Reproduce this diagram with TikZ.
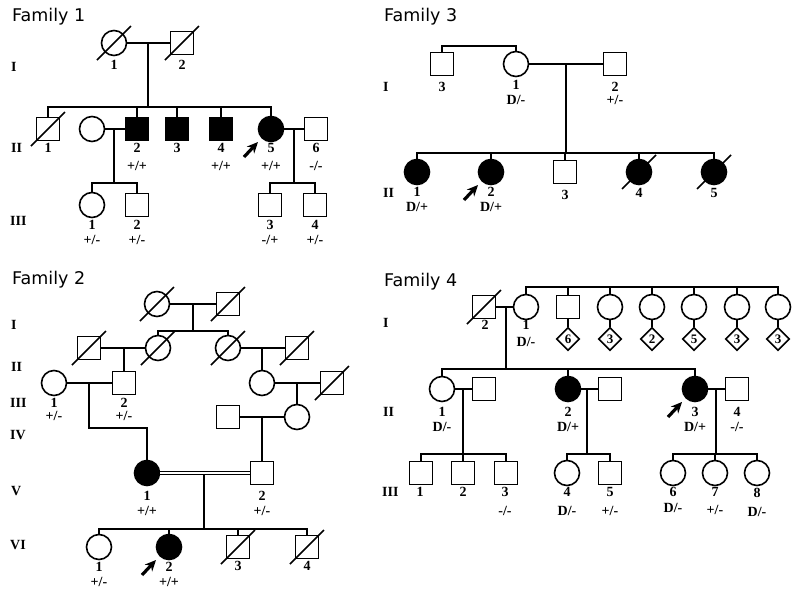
\documentclass[tikz,border=0pt]{standalone}
\usepackage{fontspec}
\setmainfont{Liberation Serif}
\newfontfamily\titlefont{DejaVu Sans}
\usetikzlibrary{calc,arrows.meta,shapes.geometric}
\tikzset{
 base/.style={draw, line width=1.6pt, inner sep=0pt},
 sq/.style={base, rectangle, minimum size=23pt},
 ci/.style={base, circle, minimum size=25pt},
 aff/.style={fill=black},
 dm/.style={base, diamond, minimum size=23pt, font=\bfseries\fontsize{13}{13}\selectfont},
 lab/.style={font=\bfseries\fontsize{14}{14}\selectfont, inner sep=0pt},
 gen/.style={font=\bfseries\fontsize{14}{14}\selectfont, anchor=west, inner sep=0pt},
 ttl/.style={font=\titlefont\fontsize{17.5}{17.5}\selectfont, anchor=west, inner sep=0pt},
 ln/.style={line width=1.6pt},
 dl/.style={line width=1.6pt},
 prob/.style={line width=3.2pt, -{Stealth[length=11pt,width=10pt]}},
 cons/.style={double, double distance=2pt, line width=1.4pt}
}
\newcommand\deadmark[1]{\draw[dl] ($(#1)+(-17,17)$) -- ($(#1)+(17,-17)$);}
\newcommand\probarrow[1]{\draw[prob] ($(#1)+(-27,28)$) -- ($(#1)+(-13,13)$);}
\begin{document}
\begin{tikzpicture}[x=1pt,y=-1pt]
\useasboundingbox[fill=white] (0,0) rectangle (798,595);

% ================= Family 1 =================
\node[ttl] (t1) at (12,17) {Family 1};
\node[gen] (g1a) at (11,67) {I};
\node[gen] (g1b) at (11,148) {II};
\node[gen] (g1c) at (10,221) {III};

\node[ci] (a11) at (114,43) {};
\node[sq] (a12) at (182,43) {};
\deadmark{a11}\deadmark{a12}
\node[lab] (a11n) at (114,65) {1};
\node[lab] (a12n) at (182,65) {2};
\draw[ln] (a11) -- (a12);
\coordinate (a1m) at (148,43);
\coordinate (a1s) at (148,107);
\draw[ln] (a1m) -- (a1s);

\node[sq] (a21) at (48,129) {};
\deadmark{a21}
\node[ci] (a2s) at (92,129) {};
\node[sq,aff] (a22) at (137,129) {};
\node[sq,aff] (a23) at (177,129) {};
\node[sq,aff] (a24) at (221,129) {};
\node[ci,aff] (a25) at (271,129) {};
\node[sq] (a26) at (316,129) {};
\draw[ln] (a21.north) |- (a1s) -| (a25.north);
\foreach \n in {a22,a23,a24} \draw[ln] (\n.north) -- (\n.north |- a1s);
\draw[ln] (a2s) -- (a22);
\draw[ln] (a25) -- (a26);
\coordinate (a2m) at (114,129);
\coordinate (a2c) at (114,183);
\coordinate (a5m) at (294,129);
\coordinate (a5c) at (294,183);
\draw[ln] (a2m) -- (a2c);
\draw[ln] (a5m) -- (a5c);
\probarrow{a25}

\node[lab] (a21n) at (48,148) {1};
\node[lab] (a22n) at (137,148) {2};
\node[lab] (a23n) at (177,148) {3};
\node[lab] (a24n) at (221,148) {4};
\node[lab] (a25n) at (271,148) {5};
\node[lab] (a26n) at (316,148) {6};
\node[lab] (a22g) at (137,166) {+/+};
\node[lab] (a24g) at (221,166) {+/+};
\node[lab] (a25g) at (271,166) {+/+};
\node[lab] (a26g) at (316,166) {-/-};

\node[ci] (a31) at (92,205) {};
\node[sq] (a32) at (137,205) {};
\node[sq] (a33) at (270,205) {};
\node[sq] (a34) at (315,205) {};
\draw[ln] (a31.north) |- (a2c) -| (a32.north);
\draw[ln] (a33.north) |- (a5c) -| (a34.north);
\node[lab] (a31n) at (92,225) {1};
\node[lab] (a32n) at (137,225) {2};
\node[lab] (a33n) at (270,225) {3};
\node[lab] (a34n) at (315,225) {4};
\node[lab] (a31g) at (92,240) {+/-};
\node[lab] (a32g) at (137,240) {+/-};
\node[lab] (a33g) at (270,240) {-/+};
\node[lab] (a34g) at (315,240) {+/-};

% ================= Family 3 =================
\node[ttl] (t3) at (384,17) {Family 3};
\node[gen] (g3a) at (383,87) {I};
\node[gen] (g3b) at (383,193) {II};

\node[sq] (b13) at (442,64) {};
\node[ci] (b11) at (516,64) {};
\node[sq] (b12) at (615,64) {};
\coordinate (b1t) at (442,46);
\draw[ln] (b13.north) -- (b1t) -| (b11.north);
\draw[ln] (b11) -- (b12);
\coordinate (b1m) at (566,64);
\coordinate (b1s) at (566,153);
\draw[ln] (b1m) -- (b1s);
\node[lab] (b13n) at (442,87) {3};
\node[lab] (b11n) at (516,85) {1};
\node[lab] (b11g) at (516,100) {D/-};
\node[lab] (b12n) at (615,87) {2};
\node[lab] (b12g) at (615,100) {+/-};

\node[ci,aff] (b21) at (417,172) {};
\node[ci,aff] (b22) at (491,172) {};
\node[sq] (b23) at (565,172) {};
\node[ci,aff] (b24) at (639,172) {};
\node[ci,aff] (b25) at (714,172) {};
\deadmark{b24}\deadmark{b25}
\draw[ln] (b21.north) |- (b1s) -| (b25.north);
\foreach \n in {b22,b23,b24} \draw[ln] (\n.north) -- (\n.north |- b1s);
\probarrow{b22}
\node[lab] (b21n) at (417,192) {1};
\node[lab] (b21g) at (417,207) {D/+};
\node[lab] (b22n) at (491,192) {2};
\node[lab] (b22g) at (491,207) {D/+};
\node[lab] (b23n) at (565,195) {3};
\node[lab] (b24n) at (639,193) {4};
\node[lab] (b25n) at (714,193) {5};

% ================= Family 2 =================
\node[ttl] (t2) at (12,280) {Family 2};
\node[gen] (g2a) at (11,325) {I};
\node[gen] (g2b) at (11,367) {II};
\node[gen] (g2c) at (10,403) {III};
\node[gen] (g2d) at (10,435) {IV};
\node[gen] (g2e) at (11,491) {V};
\node[gen] (g2f) at (10,545) {VI};

\node[ci] (c1a) at (157,304) {};
\node[sq] (c1b) at (228,304) {};
\deadmark{c1a}\deadmark{c1b}
\draw[ln] (c1a) -- (c1b);
\coordinate (c1m) at (193,304);
\coordinate (c1s) at (193,331);
\draw[ln] (c1m) -- (c1s);

\node[ci] (c2a) at (158,348) {};
\node[ci] (c2b) at (228,348) {};
\node[sq] (c2l) at (89,348) {};
\node[sq] (c2r) at (297,348) {};
\deadmark{c2a}\deadmark{c2b}\deadmark{c2l}\deadmark{c2r}
\draw[ln] (c2a.north) |- (c1s) -| (c2b.north);
\draw[ln] (c2l) -- (c2a);
\draw[ln] (c2b) -- (c2r);

\node[ci] (c31) at (54,383) {};
\node[sq] (c32) at (124,383) {};
\coordinate (c2lm) at (124,348);
\draw[ln] (c2lm) -- (c32.north);
\draw[ln] (c31) -- (c32);
\node[lab] (c31n) at (54,403) {1};
\node[lab] (c31g) at (54,416) {+/-};
\node[lab] (c32n) at (124,403) {2};
\node[lab] (c32g) at (124,416) {+/-};

\node[ci] (c3c) at (262,383) {};
\node[sq] (c3d) at (332,383) {};
\deadmark{c3d}
\coordinate (c2rm) at (262,348);
\draw[ln] (c2rm) -- (c3c.north);
\draw[ln] (c3c) -- (c3d);

\node[ci] (c4c) at (297,417) {};
\node[sq] (c4s) at (228,417) {};
\coordinate (c3m) at (297,383);
\draw[ln] (c3m) -- (c4c.north);
\draw[ln] (c4s) -- (c4c);

\node[ci,aff] (c51) at (147,473) {};
\node[sq] (c52) at (262,473) {};
\coordinate (c3lm) at (89,383);
\coordinate (c3lb) at (89,428);
\draw[ln] (c3lm) -- (c3lb) -| (c51.north);
\coordinate (c4m) at (262,417);
\draw[ln] (c4m) -- (c52.north);
\draw[cons] (c51) -- (c52);
\node[lab] (c51n) at (147,496) {1};
\node[lab] (c51g) at (147,511) {+/+};
\node[lab] (c52n) at (262,496) {2};
\node[lab] (c52g) at (262,511) {+/-};
\coordinate (c5m) at (204,475);
\coordinate (c5s) at (204,529);
\draw[ln] (c5m) -- (c5s);

\node[ci] (c61) at (99,547) {};
\node[ci,aff] (c62) at (169,547) {};
\node[sq] (c63) at (238,547) {};
\node[sq] (c64) at (307,547) {};
\deadmark{c63}\deadmark{c64}
\draw[ln] (c61.north) |- (c5s) -| (c64.north);
\foreach \n in {c62,c63} \draw[ln] (\n.north) -- (\n.north |- c5s);
\probarrow{c62}
\node[lab] (c61n) at (99,567) {1};
\node[lab] (c61g) at (99,582) {+/-};
\node[lab] (c62n) at (169,567) {2};
\node[lab] (c62g) at (169,582) {+/+};
\node[lab] (c63n) at (238,566) {3};
\node[lab] (c64n) at (307,566) {4};

% ================= Family 4 =================
\node[ttl] (t4) at (384,282) {Family 4};
\node[gen] (g4a) at (383,323) {I};
\node[gen] (g4b) at (383,412) {II};
\node[gen] (g4c) at (382,492) {III};

\node[sq] (d12) at (484,307) {};
\deadmark{d12}
\node[ci] (d11) at (526,307) {};
\draw[ln] (d12) -- (d11);
\coordinate (d1m) at (506,307);
\coordinate (d1s) at (506,369);
\draw[ln] (d1m) -- (d1s);
\node[lab] (d12n) at (485,325) {2};
\node[lab] (d11n) at (526,325) {1};
\node[lab] (d11g) at (526,342) {D/-};

\node[sq] (ds1) at (568,307) {};
\node[ci] (ds2) at (610,307) {};
\node[ci] (ds3) at (652,307) {};
\node[ci] (ds4) at (694,307) {};
\node[ci] (ds5) at (737,307) {};
\node[ci] (ds6) at (778,307) {};
\coordinate (d1t) at (652,287);
\draw[ln] (d11.north) |- (d1t) -| (ds6.north);
\foreach \n in {ds1,ds2,ds3,ds4,ds5} \draw[ln] (\n.north) -- (\n.north |- d1t);
\node[dm] (dd1) at (568,339) {6};
\node[dm] (dd2) at (610,339) {3};
\node[dm] (dd3) at (652,339) {2};
\node[dm] (dd4) at (694,339) {5};
\node[dm] (dd5) at (737,339) {3};
\node[dm] (dd6) at (778,339) {3};
\draw[ln] (ds1) -- (dd1);
\draw[ln] (ds2) -- (dd2);
\draw[ln] (ds3) -- (dd3);
\draw[ln] (ds4) -- (dd4);
\draw[ln] (ds5) -- (dd5);
\draw[ln] (ds6) -- (dd6);

\node[ci] (d21) at (442,389) {};
\node[sq] (d21s) at (484,389) {};
\node[ci,aff] (d22) at (568,389) {};
\node[sq] (d22s) at (610,389) {};
\node[ci,aff] (d23) at (695,389) {};
\node[sq] (d24) at (737,389) {};
\draw[ln] (d21.north) |- (d1s) -| (d23.north);
\draw[ln] (d22.north) -- (d22.north |- d1s);
\draw[ln] (d21) -- (d21s);
\draw[ln] (d22) -- (d22s);
\draw[ln] (d23) -- (d24);
\probarrow{d23}
\node[lab] (d21n) at (442,412) {1};
\node[lab] (d21g) at (442,427) {D/-};
\node[lab] (d22n) at (568,412) {2};
\node[lab] (d22g) at (568,427) {D/+};
\node[lab] (d23n) at (695,412) {3};
\node[lab] (d23g) at (695,427) {D/+};
\node[lab] (d24n) at (737,412) {4};
\node[lab] (d24g) at (737,427) {-/-};

\coordinate (d2am) at (463,389);
\coordinate (d2ac) at (463,454);
\coordinate (d2bm) at (587,389);
\coordinate (d2bc) at (587,454);
\coordinate (d2cm) at (716,389);
\coordinate (d2cc) at (716,454);
\draw[ln] (d2am) -- (d2ac);
\draw[ln] (d2bm) -- (d2bc);
\draw[ln] (d2cm) -- (d2cc);

\node[sq] (d31) at (421,473) {};
\node[sq] (d32) at (463,473) {};
\node[sq] (d33) at (506,473) {};
\node[ci] (d34) at (567,473) {};
\node[sq] (d35) at (610,473) {};
\node[ci] (d36) at (673,473) {};
\node[ci] (d37) at (715,473) {};
\node[ci] (d38) at (757,473) {};
\draw[ln] (d31.north) |- (d2ac) -| (d33.north);
\draw[ln] (d32.north) -- (d2ac);
\draw[ln] (d34.north) |- (d2bc) -| (d35.north);
\draw[ln] (d36.north) |- (d2cc) -| (d38.north);
\draw[ln] (d37.north) -- (d37.north |- d2cc);
\node[lab] (d31n) at (420,492) {1};
\node[lab] (d32n) at (463,492) {2};
\node[lab] (d33n) at (505,492) {3};
\node[lab] (d33g) at (505,511) {-/-};
\node[lab] (d34n) at (567,492) {4};
\node[lab] (d34g) at (567,511) {D/-};
\node[lab] (d35n) at (610,492) {5};
\node[lab] (d35g) at (610,511) {+/-};
\node[lab] (d36n) at (673,492) {6};
\node[lab] (d36g) at (673,508) {D/-};
\node[lab] (d37n) at (715,492) {7};
\node[lab] (d37g) at (715,510) {+/-};
\node[lab] (d38n) at (757,493) {8};
\node[lab] (d38g) at (757,512) {D/-};
\end{tikzpicture}
\end{document}
